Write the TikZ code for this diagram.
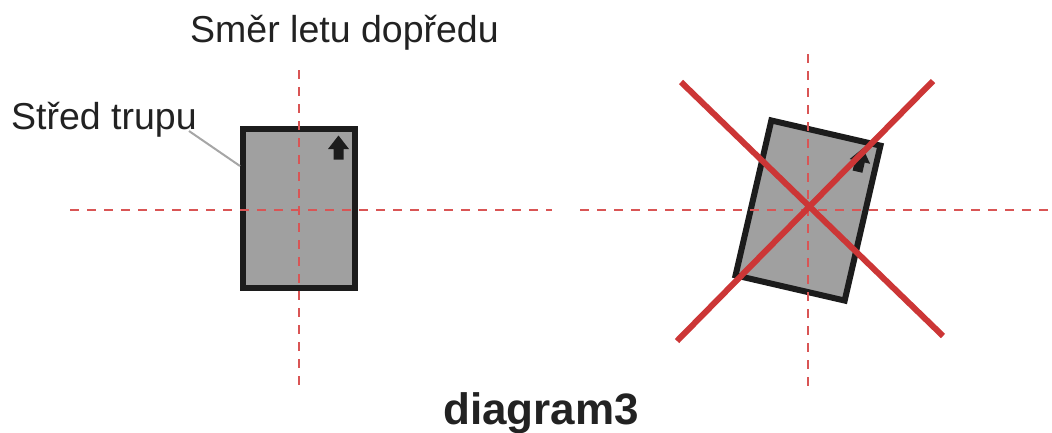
\documentclass[tikz,border=0pt]{standalone}
\usepackage{fontspec}
\setmainfont{Liberation Sans}
\definecolor{txt}{HTML}{222222}
\definecolor{guide}{HTML}{D95555}
\definecolor{cross}{HTML}{CC3636}
\definecolor{bodyfill}{HTML}{A0A0A0}
\definecolor{bodyline}{HTML}{1C1C1C}
\definecolor{leader}{HTML}{A6A6A6}
\tikzset{
  lbl/.style={text=txt, inner sep=0pt, font=\fontsize{37.5}{42}\selectfont},
  title/.style={text=txt, inner sep=0pt, font=\fontsize{44}{48}\selectfont\bfseries},
  bodybox/.style={draw=bodyline, fill=bodyfill, line width=6pt, minimum width=112pt, minimum height=159pt, inner sep=0pt},
  guideline/.style={draw=guide, line width=1.4pt, dash pattern=on 9pt off 8pt},
  crossline/.style={draw=cross, line width=6pt},
  leaderline/.style={draw=leader, line width=2pt},
  heading/.style={fill=bodyline},
}
\newcommand{\headingarrow}{%
  \fill[heading] (39.5,-73) -- (50,-59.5) -- (44.5,-59.5) -- (44.5,-49) -- (34.5,-49) -- (34.5,-59.5) -- (29,-59.5) -- cycle;}
\begin{document}
\begin{tikzpicture}[x=1pt,y=-1pt]
\useasboundingbox (0,0) rectangle (1052,432);
% left body
\node[bodybox] (bodyL) at (299,208.5) {};
\begin{scope}[shift={(299,208.5)}]
\headingarrow
\end{scope}
% right body rotated
\node[bodybox, rotate=-13] (bodyR) at (808,210.5) {};
\begin{scope}[shift={(808,210.5)}, rotate=-13]
\headingarrow
\end{scope}
% guide lines
\coordinate (hL1) at (70,210);
\coordinate (hL2) at (552,210);
\coordinate (vL1) at (299,70);
\coordinate (vL2) at (299,386);
\coordinate (hR1) at (580,210);
\coordinate (hR2) at (1052,210);
\coordinate (vR1) at (808,54);
\coordinate (vR2) at (808,386);
\draw[guideline] (hL1) -- (hL2);
\draw[guideline] (vL1) -- (vL2);
\draw[guideline] (hR1) -- (hR2);
\draw[guideline] (vR1) -- (vR2);
% cross
\coordinate (xa1) at (681,82);
\coordinate (xa2) at (943,336);
\coordinate (xb1) at (933,81);
\coordinate (xb2) at (677,341);
\draw[crossline] (xa1) -- (xa2);
\draw[crossline] (xb1) -- (xb2);
% labels
\node[lbl, anchor=base west] (smer) at (190,42) {Směr letu dopředu};
\node[lbl, anchor=base west] (stred) at (11,129) {Střed trupu};
\node[title, anchor=base west] (cap) at (443,424) {diagram3};
\coordinate (ldA) at (189,131);
\coordinate (ldB) at (240,166);
\draw[leaderline] (ldA) -- (ldB);
\end{tikzpicture}
\end{document}
